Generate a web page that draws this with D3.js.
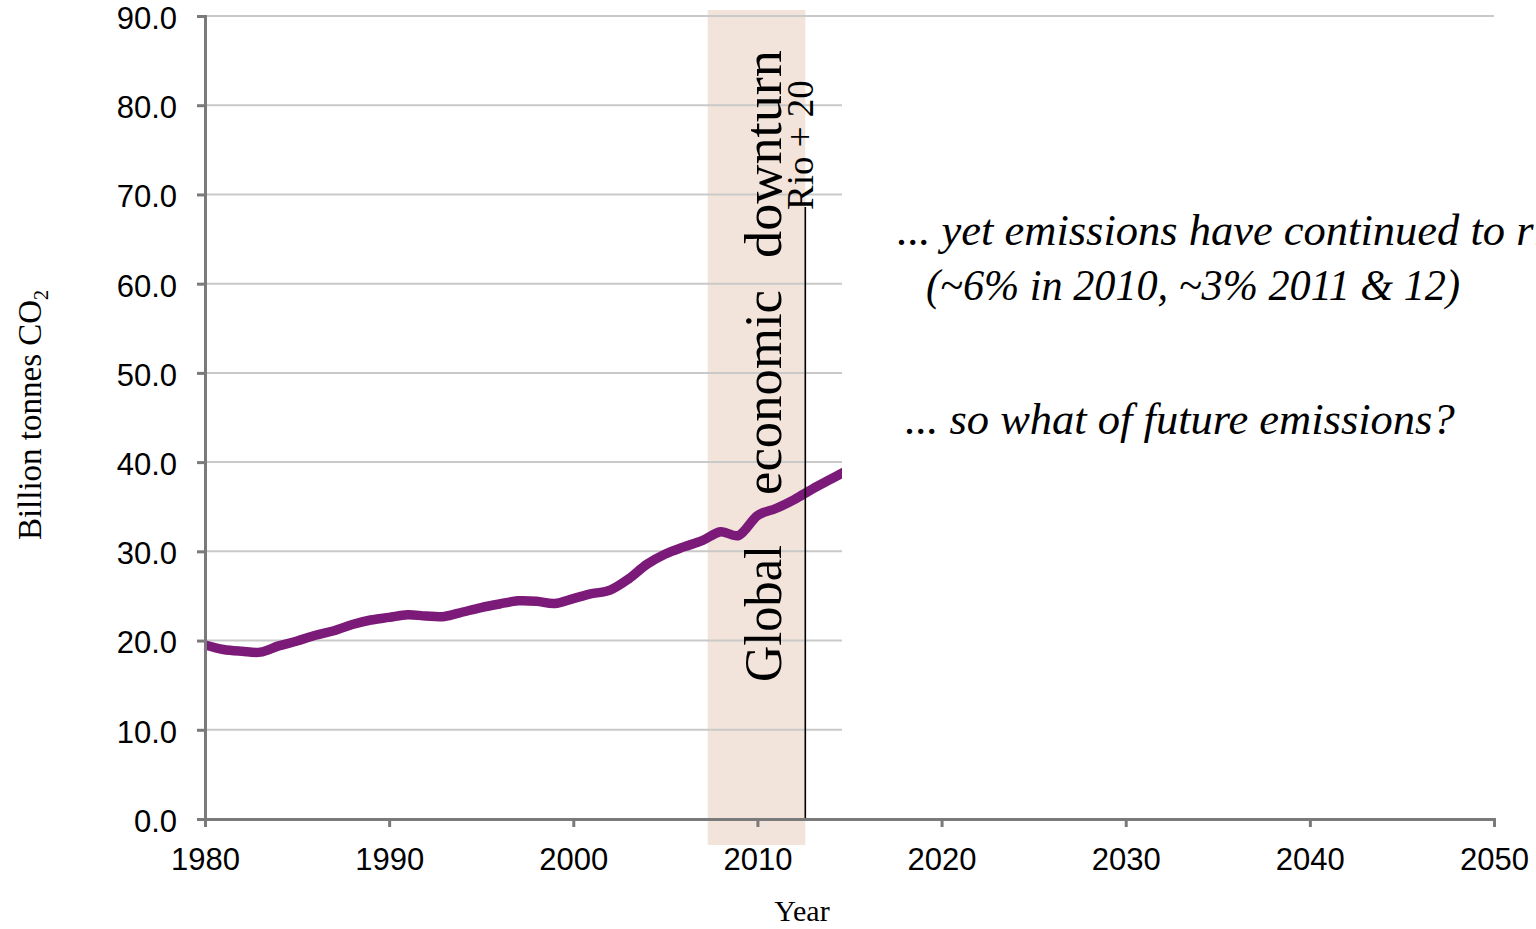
<!DOCTYPE html>
<html>
<head>
<meta charset="utf-8">
<script src="https://cdn.jsdelivr.net/npm/d3@7"></script>
<style>
  html, body { margin: 0; padding: 0; background: #ffffff; overflow: hidden; }
  svg { display: block; }
</style>
</head>
<body>
<svg id="chart" width="1536" height="929"></svg>
<script>
// Global CO2 emissions, billion tonnes per year
const years = [1980, 1981, 1982, 1983, 1984, 1985, 1986, 1987, 1988, 1989,
               1990, 1991, 1992, 1993, 1994, 1995, 1996, 1997, 1998, 1999,
               2000, 2001, 2002, 2003, 2004, 2005, 2006, 2007, 2008, 2009,
               2010, 2011, 2012, 2013, 2014, 2015];
const emissions = [19.5, 19.0, 18.8, 18.7, 19.4, 19.95, 20.6, 21.1, 21.8, 22.3,
                   22.6, 22.9, 22.75, 22.7, 23.2, 23.7, 24.1, 24.45, 24.4, 24.15,
                   24.7, 25.25, 25.65, 26.9, 28.55, 29.7, 30.5, 31.2, 32.2, 31.8,
                   34.0, 34.8, 35.8, 37.0, 38.1, 39.2];

const yTicks = [0, 10, 20, 30, 40, 50, 60, 70, 80, 90];
const xTicks = [1980, 1990, 2000, 2010, 2020, 2030, 2040, 2050];

const downturnSpan = [2007.3, 2012.6];
const rioYear = 2012.6;
const rioLabel = "Rio + 20";
const downturnWords = ["Global", "economic", "downturn"];
const notes = [
  "... yet emissions have continued to rise",
  "(~6% in 2010, ~3% 2011 & 12)",
  "... so what of future emissions?"
];
const xTitle = "Year";

const svg = d3.select("#chart");
const axisColor = "#7a7a7a";
const gridColor = "#c9c9c9";
const serif = "'Liberation Serif', 'DejaVu Serif', serif";
const sans = "'Liberation Sans', Arial, sans-serif";

const x = d3.scaleLinear().domain([1980, 2050]).range([205, 1494]);
const y = d3.scaleLinear().domain([0, 90]).range([819, 16]);

// shaded recession period
svg.append("rect")
  .attr("x", x(downturnSpan[0]))
  .attr("width", x(downturnSpan[1]) - x(downturnSpan[0]))
  .attr("y", 10)
  .attr("height", 835)
  .attr("fill", "#f2e4da");

// horizontal gridlines
svg.append("g")
  .selectAll("line")
  .data(yTicks.filter(d => d > 0))
  .join("line")
  .attr("x1", x(1980)).attr("x2", x(2050))
  .attr("y1", d => y(d)).attr("y2", d => y(d))
  .attr("stroke", gridColor)
  .attr("stroke-width", 2);

// emissions line
const line = d3.line()
  .x((d, i) => x(years[i]))
  .y(d => y(d))
  .curve(d3.curveCardinal.tension(0));

svg.append("path")
  .datum(emissions)
  .attr("d", line)
  .attr("fill", "none")
  .attr("stroke", "#7b1a79")
  .attr("stroke-width", 9.5)
  .attr("stroke-linejoin", "round");

// white annotation panel on the right
svg.append("rect")
  .attr("x", 842)
  .attr("y", 20)
  .attr("width", 1536 - 842)
  .attr("height", 797)
  .attr("fill", "#ffffff");

// Rio + 20 marker
svg.append("line")
  .attr("x1", x(rioYear)).attr("x2", x(rioYear))
  .attr("y1", 207).attr("y2", y(0))
  .attr("stroke", "#000")
  .attr("stroke-width", 1.6);

svg.append("text")
  .attr("transform", `translate(${x(rioYear) + 8},210) rotate(-90)`)
  .attr("font-family", serif)
  .attr("font-size", 37)
  .attr("fill", "#000")
  .text(rioLabel);

// downturn label, words spread along the shaded band
const wordLayout = [
  { start: 0, len: 137 },
  { start: 187, len: 205 },
  { start: 424, len: 208 }
];
const downturnG = svg.append("g")
  .attr("transform", "translate(781,682) rotate(-90)");
downturnG.selectAll("text")
  .data(downturnWords)
  .join("text")
  .attr("x", (d, i) => wordLayout[i].start)
  .attr("y", 0)
  .attr("textLength", (d, i) => wordLayout[i].len)
  .attr("lengthAdjust", "spacingAndGlyphs")
  .attr("font-family", serif)
  .attr("font-size", 52)
  .attr("fill", "#000")
  .text(d => d);

// y axis
const yAxis = d3.axisLeft(y)
  .tickValues(yTicks)
  .tickFormat(d3.format(".1f"))
  .tickSize(8)
  .tickPadding(20);
const gy = svg.append("g")
  .attr("transform", `translate(${x(1980)},0)`)
  .call(yAxis);
gy.select(".domain").attr("stroke", axisColor).attr("stroke-width", 3);
gy.selectAll(".tick line").attr("stroke", axisColor).attr("stroke-width", 3);
gy.selectAll(".tick text")
  .attr("y", 2.5)
  .attr("font-family", sans)
  .attr("font-size", 31)
  .attr("fill", "#000");

// x axis
const xAxis = d3.axisBottom(x)
  .tickValues(xTicks)
  .tickFormat(d3.format("d"))
  .tickSize(8)
  .tickPadding(21);
const gx = svg.append("g")
  .attr("transform", `translate(0,${y(0)})`)
  .call(xAxis);
gx.select(".domain").attr("stroke", axisColor).attr("stroke-width", 3);
gx.selectAll(".tick line").attr("stroke", axisColor).attr("stroke-width", 3);
gx.selectAll(".tick text")
  .attr("font-family", sans)
  .attr("font-size", 31)
  .attr("fill", "#000");

// axis titles
svg.append("text")
  .attr("x", 802).attr("y", 921)
  .attr("text-anchor", "middle")
  .attr("font-family", serif)
  .attr("font-size", 30)
  .attr("fill", "#000")
  .text(xTitle);

const yTitle = svg.append("text")
  .attr("transform", "translate(41,415) rotate(-90)")
  .attr("text-anchor", "middle")
  .attr("font-family", serif)
  .attr("font-size", 33)
  .attr("fill", "#000");
yTitle.append("tspan").text("Billion tonnes CO");
yTitle.append("tspan").attr("font-size", 20).attr("dy", 7).text("2");

// commentary
const noteX = [897, 926, 905];
const noteY = [245, 300, 434];
svg.append("g")
  .selectAll("text")
  .data(notes)
  .join("text")
  .attr("x", (d, i) => noteX[i])
  .attr("y", (d, i) => noteY[i])
  .attr("font-family", serif)
  .attr("font-style", "italic")
  .attr("font-size", 44.5)
  .attr("fill", "#000")
  .each(function (d, i) {
    if (i === 1) d3.select(this).attr("textLength", 534).attr("lengthAdjust", "spacingAndGlyphs");
  })
  .text(d => d);
</script>
</body>
</html>
